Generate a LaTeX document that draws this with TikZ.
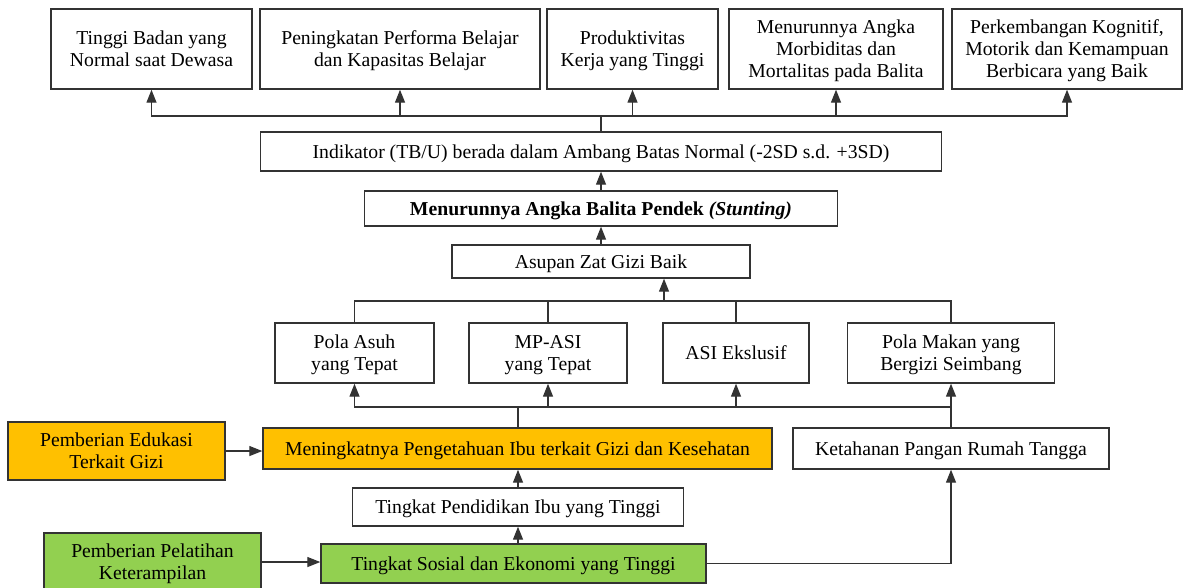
\documentclass[tikz,border=0pt]{standalone}
\usepackage{fontspec}
\setmainfont{Liberation Serif}
\usepackage{xcolor}
\usepackage{tikz}
\usetikzlibrary{positioning,%
  arrows.meta,%
  calc
}
\definecolor{oranye}{HTML}{FFC000}
\definecolor{hijau}{HTML}{92D050}

\begin{document}
\begin{tikzpicture}
                    [x=1pt, y=-1pt,
                    bx/.style={rectangle,
                        draw=black!80, fill=white,
                        line width=1.4pt, inner sep=2pt,
                        align=center, text depth=0pt,
                        font=\fontsize{19.7}{22}\selectfont},
                    ed/.style={bx, fill=oranye},
                    pl/.style={bx, fill=hijau},
                    ln/.style={draw=black!80, line width=1.3pt},
                    ar/.style={ln, -{Triangle[length=13pt,width=10pt]}}]

                    \useasboundingbox (0,0) rectangle (1186,587);

                    \node[bx, minimum width=201, minimum height=80] (tinggi) at (151.5,49)
                        {Tinggi Badan yang\\Normal saat Dewasa};
                    \node[bx, minimum width=280, minimum height=80] (belajar) at (400,49)
                        {Peningkatan Performa Belajar\\dan Kapasitas Belajar};
                    \node[bx, minimum width=171, minimum height=80] (kerja) at (632.5,49)
                        {Produktivitas\\Kerja yang Tinggi};
                    \node[bx, minimum width=214, minimum height=80] (morbid) at (836,49)
                        {Menurunnya Angka\\Morbiditas dan\\Mortalitas pada Balita};
                    \node[bx, minimum width=230, minimum height=80] (kognitif) at (1067,49)
                        {Perkembangan Kognitif,\\Motorik dan Kemampuan\\Berbicara yang Baik};

                    \node[bx, minimum width=681, minimum height=39] (indikator) at (601,151.5)
                        {Indikator (TB/U) berada dalam Ambang Batas Normal (-2SD s.d. +3SD)};
                    \node[bx, minimum width=473, minimum height=35] (stunting) at (601,208.5)
                        {\textbf{Menurunnya Angka Balita Pendek \textit{(Stunting)}}};
                    \node[bx, minimum width=298, minimum height=33] (asupan) at (601,261.5)
                        {Asupan Zat Gizi Baik};

                    \node[bx, minimum width=159, minimum height=60] (asuh) at (354.5,353)
                        {Pola Asuh\\yang Tepat};
                    \node[bx, minimum width=158, minimum height=60] (mpasi) at (548,353)
                        {MP-ASI\\yang Tepat};
                    \node[bx, minimum width=146, minimum height=60] (asi) at (736,353)
                        {ASI Ekslusif};
                    \node[bx, minimum width=207, minimum height=60] (makan) at (951,353)
                        {Pola Makan yang\\Bergizi Seimbang};

                    \node[ed, minimum width=217, minimum height=58] (edukasi) at (116.5,451)
                        {Pemberian Edukasi\\Terkait Gizi};
                    \node[ed, minimum width=509, minimum height=41] (tahu) at (517.5,448.5)
                        {Meningkatnya Pengetahuan Ibu terkait Gizi dan Kesehatan};
                    \node[bx, minimum width=316, minimum height=41] (pangan) at (951,448.5)
                        {Ketahanan Pangan Rumah Tangga};
                    \node[bx, minimum width=331, minimum height=38] (didik) at (518,507)
                        {Tingkat Pendidikan Ibu yang Tinggi};
                    \node[pl, minimum width=217, minimum height=58] (latih) at (152.5,562)
                        {Pemberian Pelatihan\\Keterampilan};
                    \node[pl, minimum width=385, minimum height=39] (sosek) at (513.5,563.5)
                        {Tingkat Sosial dan Ekonomi yang Tinggi};

                    \coordinate (busA) at (601,116);
                    \coordinate (busB) at (664,301);
                    \coordinate (busC) at (518,407);

                    \draw[ln] (indikator.north) -- (busA);
                    \foreach \t in {tinggi,belajar,kerja,morbid,kognitif}
                        \draw[ar] (busA) -| (\t.south);
                    \draw[ar] (stunting) -- (indikator);
                    \draw[ar] (asupan) -- (stunting);

                    \foreach \p in {asuh,mpasi,asi,makan}
                        \draw[ln] (\p.north) |- (busB);
                    \draw[ar] (busB) -- (busB |- asupan.south);

                    \draw[ln] (tahu.north -| busC) -- (busC);
                    \foreach \p in {asuh,mpasi,asi,makan}
                        \draw[ar] (busC) -| (\p.south);
                    \draw[ln] (pangan.north) -- (pangan.north |- busC);

                    \draw[ar] (edukasi.east) -- (edukasi.east -| tahu.west);
                    \draw[ar] (didik) -- (didik.south |- tahu.south);
                    \draw[ar] (didik.south |- sosek.north) -- (didik);
                    \draw[ar] (latih.east) -- (latih.east -| sosek.west);
                    \draw[ar] (sosek.east) -| (pangan.south);
                \end{tikzpicture}
\end{document}
